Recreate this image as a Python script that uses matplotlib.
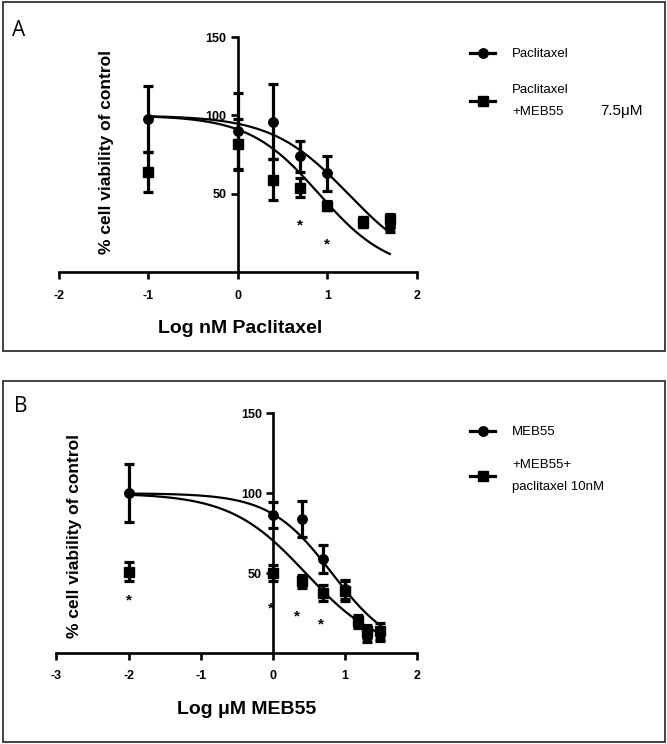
import numpy as np
import matplotlib
matplotlib.use("Agg")
import matplotlib.pyplot as plt
from matplotlib.lines import Line2D
from matplotlib.patches import Rectangle

# ---- panel A: paclitaxel dose response (log nM) ----
a_logdose = [-1, 0, 0.398, 0.699, 1, 1.398, 1.699]
a_ptx_mean = [98, 90, 96, 74, 63, 32, 29]
a_ptx_err = [21, 24.5, 24, 10, 11, 3, 3]
a_combo_mean = [64, 82, 59, 54, 42.5, 32, 34]
a_combo_err = [13, 16, 13, 6, 3, 3, 3]
a_ptx_fit = [1.234, 1.015]      # logIC50, hill
a_combo_fit = [0.907, 1.108]
a_fit_range = [-1, 1.7]
a_star_x = [0.7, 1.0]
a_star_y = [30, 18]
a_labels = ["Paclitaxel", "Paclitaxel\n+MEB55"]
a_xticks = [-2, -1, 0, 1, 2]

# ---- panel B: MEB55 dose response (log uM) ----
b_logdose = [-2, 0, 0.398, 0.699, 1, 1.176, 1.301, 1.477]
b_meb_mean = [100, 86.5, 84, 59, 40, 20, 10, 12]
b_meb_err = [18, 8, 11, 9, 6, 3, 3, 4]
b_combo_mean = [51, 50, 45, 38, 39, 20, 14, 14]
b_combo_err = [6, 5, 4, 5, 6, 4, 4, 5]
b_meb_fit = [0.818, 1.01]
b_combo_fit = [0.455, 0.828]
b_fit_range = [-2, 1.5]
b_star_x = [-2, -0.03, 0.33, 0.66]
b_star_y = [33, 28, 23, 18]
b_labels = ["MEB55", "+MEB55+\npaclitaxel 10nM"]
b_xticks = [-3, -2, -1, 0, 1, 2]

yticks = [50, 100, 150]

W, H = 667, 744


def fx(px):
    return px / W


def fy(py):
    return 1 - py / H


def sigmoid(x, logic50, hill, top=100.0, bottom=0.0):
    return bottom + (top - bottom) / (1 + 10 ** ((x - logic50) * hill))


def draw_panel(ax, x, m1, e1, m2, e2, fit1, fit2, frange, sx, sy, xticks, xpad):
    ekw = dict(color="black", elinewidth=2.3, capsize=3.6, capthick=2.3, clip_on=False, zorder=3)
    ax.errorbar(x, m1, yerr=e1, fmt="o", ms=6.8, **ekw)
    ax.errorbar(x, m2, yerr=e2, fmt="s", ms=7.0, **ekw)
    xx = np.linspace(frange[0], frange[1], 200)
    ax.plot(xx, sigmoid(xx, *fit1), color="black", lw=1.6, zorder=2)
    ax.plot(xx, sigmoid(xx, *fit2), color="black", lw=1.6, zorder=2)
    for a, b in zip(sx, sy):
        ax.text(a, b, "*", ha="center", va="center", fontsize=11, fontweight="bold")

    ax.set_xlim(xticks[0], xticks[-1])
    ax.set_ylim(0, 150)
    ax.spines["left"].set_position(("data", 0))
    ax.spines["bottom"].set_position(("data", 0))
    ax.spines["top"].set_visible(False)
    ax.spines["right"].set_visible(False)
    for s in ("left", "bottom"):
        ax.spines[s].set_linewidth(1.9)
    ax.spines["left"].set_bounds(0, 150)
    ax.set_xticks(xticks)
    ax.set_xticklabels([str(t) for t in xticks])
    ax.set_yticks(yticks)
    ax.tick_params(axis="both", length=5, width=1.9, direction="out", labelsize=9)
    ax.tick_params(axis="x", pad=xpad)
    ax.tick_params(axis="y", pad=3)
    for lab in ax.get_xticklabels() + ax.get_yticklabels():
        lab.set_fontweight("bold")
    ax.patch.set_visible(False)


plt.rcParams["font.family"] = ["Liberation Sans", "DejaVu Sans"]

fig = plt.figure(figsize=(W / 100, H / 100), dpi=100)

# outer panel frames
for top, bot in [(2, 351), (381, 742)]:
    fig.patches.append(Rectangle((fx(3), fy(bot)), fx(662), (bot - top) / H, transform=fig.transFigure,
                                 fill=False, edgecolor="#333333", lw=1.3))

axA = fig.add_axes([fx(59), fy(272.3), fx(357.7), 235.3 / H])
draw_panel(axA, a_logdose, a_ptx_mean, a_ptx_err, a_combo_mean, a_combo_err,
           a_ptx_fit, a_combo_fit, a_fit_range, a_star_x, a_star_y, a_xticks, 8)

axB = fig.add_axes([fx(56.4), fy(653.3), fx(361), 240 / H])
draw_panel(axB, b_logdose, b_meb_mean, b_meb_err, b_combo_mean, b_combo_err,
           b_meb_fit, b_combo_fit, b_fit_range, b_star_x, b_star_y, b_xticks, 7)

# panel letters
fig.text(fx(12), fy(30), "A", fontsize=15, family=["Open Sans", "DejaVu Sans"], va="center")
fig.text(fx(14), fy(407), "B", fontsize=15, family=["Open Sans", "DejaVu Sans"], va="center")

# y labels
fig.text(fx(106), fy(152), "% cell viability of control", rotation=90, ha="center", va="center",
         fontsize=12.5, fontweight="bold")
fig.text(fx(74), fy(536), "% cell viability of control", rotation=90, ha="center", va="center",
         fontsize=12.5, fontweight="bold")

# x labels
fig.text(fx(240), fy(329), "Log nM Paclitaxel", ha="center", va="center", fontsize=14,
         fontweight="bold", family=["Liberation Sans Narrow", "Liberation Sans", "DejaVu Sans"])
fig.text(fx(247), fy(710), "Log μM MEB55", ha="center", va="center", fontsize=14,
         fontweight="bold", family=["Liberation Sans Narrow", "Liberation Sans", "DejaVu Sans"])


def legend(ax, labels, top_px, spacing):
    h = [Line2D([], [], color="black", lw=2.3, marker="o", ms=6.8),
         Line2D([], [], color="black", lw=2.3, marker="s", ms=7.0)]
    leg = ax.legend(h, labels, loc="upper left", bbox_to_anchor=(fx(470), fy(top_px)),
                    bbox_transform=fig.transFigure, frameon=False, fontsize=9.5,
                    handlelength=1.9, handletextpad=1.3, borderpad=0, borderaxespad=0,
                    labelspacing=spacing)
    for t in leg.get_texts():
        t.set_linespacing(2.1)
    return leg


legend(axA, a_labels, 48, 1.8)
fig.text(fx(600), fy(111), "7.5μM", fontsize=11, va="center")
legend(axB, b_labels, 426, 1.55)

fig.savefig("out.png", dpi=100)
